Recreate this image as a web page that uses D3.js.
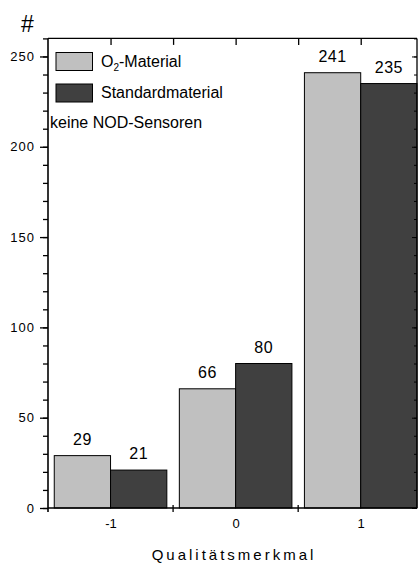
<!DOCTYPE html>
<html><head><meta charset="utf-8">
<script src="https://cdn.jsdelivr.net/npm/d3@7/dist/d3.min.js"></script>
<style>
body{margin:0;background:#fff;}
svg{display:block;font-family:"Liberation Sans",Arial,sans-serif;}
</style></head>
<body>
<svg id="c" width="419" height="565"></svg>
<script>
const categories = [-1, 0, 1];
const o2Values = [29, 66, 241];
const stdValues = [21, 80, 235];
const seriesNames = ["O2-Material", "Standardmaterial"];
const yMajorTicks = [0, 50, 100, 150, 200, 250];
const xTickLabels = ["-1", "0", "1"];
const note = "keine NOD-Sensoren";
const xTitle = "Qualitätsmerkmal";
const yTitle = "#";

const svg = d3.select("#c");
const L = 48, R = 417, T = 38.4, B = 508;
const x = d3.scaleLinear().domain([-1.5, 1.45]).range([L, R]);
const y = d3.scaleLinear().domain([0, 260]).range([B, T]);
const bw = 0.45;
const colors = ["#c0c0c0", "#404040"];

// bars
const g = svg.append("g");
categories.forEach((c, i) => {
  g.append("rect").attr("x", x(c - bw)).attr("y", y(o2Values[i]))
    .attr("width", x(c) - x(c - bw)).attr("height", y(0) - y(o2Values[i]))
    .attr("fill", colors[0]).attr("stroke", "#000").attr("stroke-width", 1);
  g.append("rect").attr("x", x(c)).attr("y", y(stdValues[i]))
    .attr("width", x(c + bw) - x(c)).attr("height", y(0) - y(stdValues[i]))
    .attr("fill", colors[1]).attr("stroke", "#000").attr("stroke-width", 1);
  svg.append("text").attr("x", x(c - bw / 2)).attr("y", y(o2Values[i]) - 11)
    .attr("text-anchor", "middle").attr("font-size", 16).attr("letter-spacing", 0.5)
    .attr("fill", "#000").text(o2Values[i]);
  svg.append("text").attr("x", x(c + bw / 2)).attr("y", y(stdValues[i]) - 11)
    .attr("text-anchor", "middle").attr("font-size", 16).attr("letter-spacing", 0.5)
    .attr("fill", "#000").text(stdValues[i]);
});

// left axis
const minor = d3.range(0, 261, 10);
const leftAx = svg.append("g").attr("transform", `translate(${L},0)`);
leftAx.call(d3.axisLeft(y).tickValues(minor).tickSize(5).tickFormat(""))
  .call(s => s.select(".domain").remove());
leftAx.selectAll("line").attr("stroke-width", 1.3);
const majAx = svg.append("g").attr("transform", `translate(${L},0)`);
majAx.call(d3.axisLeft(y).tickValues(yMajorTicks).tickSize(8).tickPadding(5))
  .call(s => s.select(".domain").remove());
majAx.selectAll("line").attr("stroke-width", 1.3);
majAx.selectAll("text").attr("font-size", 13).attr("letter-spacing", 1)
  .attr("font-family", "Liberation Sans, Arial, sans-serif").attr("fill", "#000");

// right axis (inward ticks)
const rightAx = svg.append("g").attr("transform", `translate(${R},0)`);
rightAx.call(d3.axisRight(y).tickValues(minor).tickSize(-3).tickFormat(""))
  .call(s => s.select(".domain").remove());
const rightMaj = svg.append("g").attr("transform", `translate(${R},0)`);
rightMaj.call(d3.axisRight(y).tickValues(yMajorTicks).tickSize(-5).tickFormat(""))
  .call(s => s.select(".domain").remove());

// top axis (inward ticks)
const topAx = svg.append("g").attr("transform", `translate(0,${T})`);
topAx.call(d3.axisTop(x).tickValues([-1, -0.5, 0, 0.5, 1]).tickSize(-6.5).tickFormat(""))
  .call(s => s.select(".domain").remove());
topAx.selectAll("line").attr("stroke-width", 1.3);

// bottom axis
const botAx = svg.append("g").attr("transform", `translate(0,${B})`);
botAx.call(d3.axisBottom(x).tickValues(categories).tickSize(0).tickPadding(11)
  .tickFormat((d, i) => xTickLabels[i]))
  .call(s => s.select(".domain").remove());
botAx.selectAll("text").attr("font-size", 13)
  .attr("font-family", "Liberation Sans, Arial, sans-serif").attr("fill", "#000");
[-0.5, 0.5].forEach(v => {
  svg.append("line").attr("x1", x(v)).attr("x2", x(v)).attr("y1", B - 3).attr("y2", B + 4)
    .attr("stroke", "#000").attr("stroke-width", 1.3);
});

// frame lines
svg.append("line").attr("x1", L).attr("x2", L).attr("y1", T).attr("y2", B + 4)
  .attr("stroke", "#000").attr("stroke-width", 1.6);
svg.append("line").attr("x1", L).attr("x2", R).attr("y1", B).attr("y2", B)
  .attr("stroke", "#000").attr("stroke-width", 1.6);
svg.append("line").attr("x1", L).attr("x2", R).attr("y1", T).attr("y2", T)
  .attr("stroke", "#000").attr("stroke-width", 1.3);
svg.append("line").attr("x1", R).attr("x2", R).attr("y1", T).attr("y2", B)
  .attr("stroke", "#000").attr("stroke-width", 1.3);

// legend
const lg = svg.append("g");
[0, 1].forEach(i => {
  const yy = 52.5 + i * 31.5;
  lg.append("rect").attr("x", 56).attr("y", yy).attr("width", 36.5).attr("height", 18)
    .attr("fill", colors[i]).attr("stroke", "#000").attr("stroke-width", 1);
});
const t1 = lg.append("text").attr("x", 101).attr("y", 66.5).attr("font-size", 16).attr("fill", "#000");
t1.append("tspan").text("O");
t1.append("tspan").attr("font-size", 10).attr("dy", 4).text("2");
t1.append("tspan").attr("dy", -4).text(seriesNames[0].slice(2));
lg.append("text").attr("x", 101).attr("y", 98).attr("font-size", 16).attr("fill", "#000")
  .text(seriesNames[1]);
lg.append("text").attr("x", 50).attr("y", 127.5).attr("font-size", 16).attr("fill", "#000")
  .text(note);

// titles
svg.append("text").attr("x", 21).attr("y", 32).attr("font-size", 23).attr("fill", "#000")
  .text(yTitle);
svg.append("text").attr("x", 234).attr("y", 559.5).attr("text-anchor", "middle")
  .attr("font-size", 15).attr("letter-spacing", 3).attr("fill", "#000").text(xTitle);
</script>
</body></html>
